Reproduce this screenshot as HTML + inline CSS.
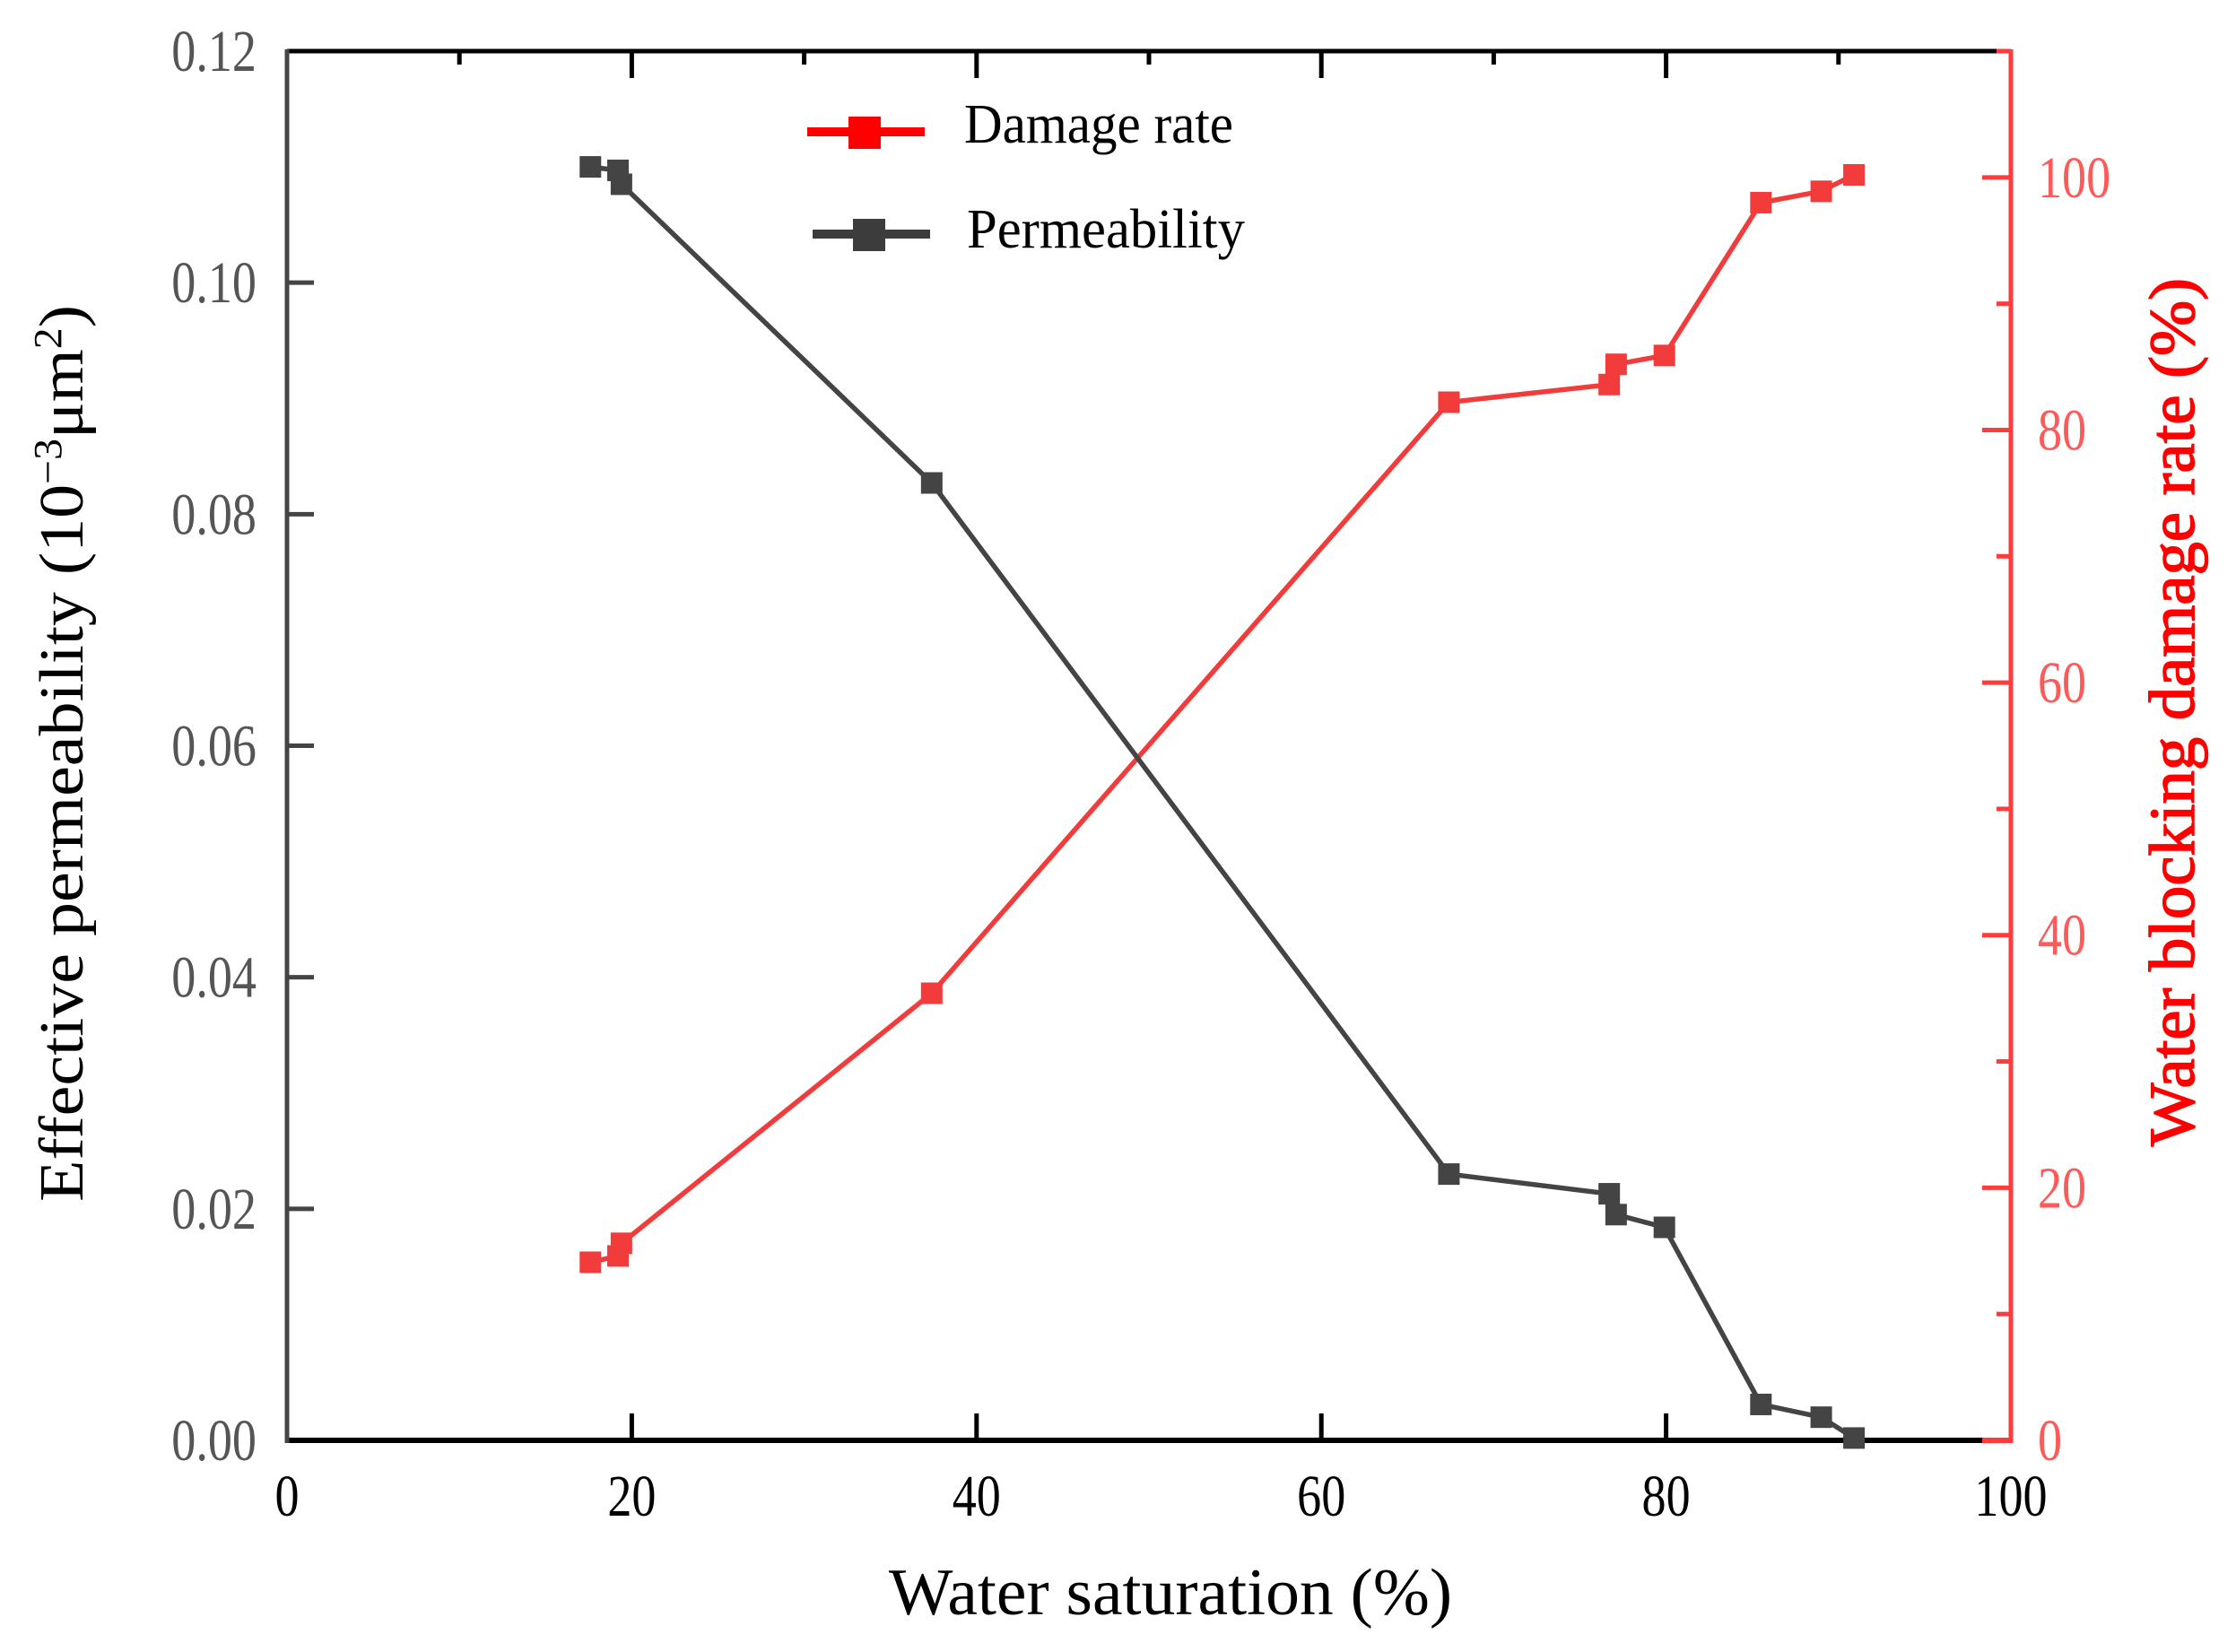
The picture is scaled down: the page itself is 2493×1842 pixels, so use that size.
<!DOCTYPE html>
<html><head><meta charset="utf-8"><style>html,body{margin:0;padding:0;background:#fff}svg{display:block}text{font-family:"Liberation Serif",serif}</style></head>
<body>
<svg id="chart" width="2493" height="1842" viewBox="0 0 2493 1842" xmlns="http://www.w3.org/2000/svg">
<g id="axes"></g>
<g id="series"></g>
<g>
 <g>
  <line x1="900" y1="147" x2="1031" y2="147" stroke="#ff0000" stroke-width="10"/>
  <rect x="946" y="130" width="36" height="36" fill="#ff0000"/>
  <text x="1075" y="159" font-size="62" fill="#000" textLength="300" lengthAdjust="spacingAndGlyphs">Damage rate</text>
 </g>
 <g>
  <line x1="906" y1="261" x2="1037" y2="261" stroke="#3c3c3c" stroke-width="10"/>
  <rect x="951" y="244" width="36" height="36" fill="#3c3c3c"/>
  <text x="1078" y="276" font-size="62" fill="#000" textLength="310" lengthAdjust="spacingAndGlyphs">Permeability</text>
 </g>
</g>
<text x="1305" y="1800" font-size="74" text-anchor="middle" fill="#000" textLength="628" lengthAdjust="spacingAndGlyphs">Water saturation (%)</text>
<text transform="translate(92,840) rotate(-90)" font-size="70" text-anchor="middle" fill="#000" textLength="1000" lengthAdjust="spacingAndGlyphs">Effective permeability (10<tspan baseline-shift="super" font-size="44">−3</tspan>μm<tspan baseline-shift="super" font-size="44">2</tspan>)</text>
<text transform="translate(2446,794) rotate(-90)" font-size="72" text-anchor="middle" fill="#ff0000" stroke="#ff0000" stroke-width="1.5" textLength="968" lengthAdjust="spacingAndGlyphs">Water blocking damage rate (%)</text>
</svg>
<script>
const xs = [17.6, 19.2, 19.4, 37.4, 67.4, 76.7, 77.1, 79.9, 85.5, 89.0, 90.9];
const permeability = [0.1100, 0.1097, 0.1085, 0.0827, 0.0230, 0.0213, 0.0195, 0.0184, 0.0031, 0.0020, 0.0002];
const damageRate = [14.1, 14.6, 15.6, 35.4, 82.2, 83.6, 85.2, 85.9, 98.0, 98.9, 100.2];
const xTicks = [0, 20, 40, 60, 80, 100];
const leftTicks = ["0.00", "0.02", "0.04", "0.06", "0.08", "0.10", "0.12"];
const rightTicks = [0, 20, 40, 60, 80, 100];

const L = 320, R = 2242, T = 57, B = 1606;
const xS = v => L + (v - 0) / 100 * (R - L);
const yL = v => B - v / 0.12 * (B - T);
const yR = v => B - v / 110 * (B - T);
const NS = "http://www.w3.org/2000/svg";
function mk(tag, attrs, parent, text) {
  const e = document.createElementNS(NS, tag);
  for (const k in attrs) e.setAttribute(k, attrs[k]);
  if (text !== undefined) e.textContent = text;
  parent.appendChild(e); return e;
}
const axes = document.getElementById('axes');
const series = document.getElementById('series');
let e;
e = mk('line', {x1: L, y1: T, x2: R, y2: T, stroke: '#000', 'stroke-width': 5}, axes);
 
e = mk('line', {x1: L, y1: B, x2: R - 30, y2: B, stroke: '#000', 'stroke-width': 6}, axes);
 
e = mk('line', {x1: L, y1: T - 2, x2: L, y2: B + 3, stroke: '#444', 'stroke-width': 5}, axes);
 
e = mk('line', {x1: R, y1: T - 2, x2: R, y2: B + 3, stroke: '#ff3b3b', 'stroke-width': 5}, axes);
 
e = mk('line', {x1: R - 32, y1: B, x2: R, y2: B, stroke: '#ff3b3b', 'stroke-width': 6}, axes);
 
xTicks.forEach((v, i) => {
  const x = xS(v);
  if (v > 0 && v < 100) {
    e = mk('line', {x1: x, y1: B, x2: x, y2: B - 30, stroke: '#000', 'stroke-width': 5}, axes);
     
    e = mk('line', {x1: x, y1: T, x2: x, y2: T + 30, stroke: '#000', 'stroke-width': 5}, axes);
     
  }
  if (i < xTicks.length - 1) {
    const xm = xS(v + 10);
    e = mk('line', {x1: xm, y1: T, x2: xm, y2: T + 15, stroke: '#000', 'stroke-width': 5}, axes);
     
  }
  e = mk('text', {transform: `translate(${x},1690) scale(0.82,1)`, 'font-size': 66, 'text-anchor': 'middle', fill: '#000'}, axes, String(v));
   
});
leftTicks.forEach((s, i) => {
  const y = yL(parseFloat(s));
  if (i > 0 && i < leftTicks.length - 1) {
    e = mk('line', {x1: L, y1: y, x2: L + 30, y2: y, stroke: '#444', 'stroke-width': 5}, axes);
     
  }
  e = mk('text', {transform: `translate(286,${y + 22}) scale(0.82,1)`, 'font-size': 66, 'text-anchor': 'end', fill: '#555'}, axes, s);
   
});
rightTicks.forEach(v => {
  const y = yR(v);
  if (v > 0) {
    e = mk('line', {x1: R, y1: y, x2: R - 32, y2: y, stroke: '#ff3b3b', 'stroke-width': 5}, axes);
     
  }
  const ym = yR(v + 10);
  e = mk('line', {x1: R, y1: ym, x2: R - 16, y2: ym, stroke: '#ff3b3b', 'stroke-width': 5}, axes);
   
  e = mk('text', {transform: `translate(2272,${y + 22}) scale(0.82,1)`, 'font-size': 66, 'text-anchor': 'start', fill: '#ff5a5a'}, axes, String(v));
   
});
function draw(vals, yf, color, name) {
  const pts = xs.map((x, i) => xS(x).toFixed(1) + ',' + yf(vals[i]).toFixed(1)).join(' ');
  e = mk('polyline', {points: pts, fill: 'none', stroke: color, 'stroke-width': 5.5}, series);
   
  xs.forEach((x, i) => {
    e = mk('rect', {x: xS(x) - 12, y: yf(vals[i]) - 12, width: 24, height: 24, fill: color}, series);
     
  });
}
draw(damageRate, yR, '#f23c3c', 'damage-rate');
draw(permeability, yL, '#444444', 'permeability');
</script>
</body></html>
